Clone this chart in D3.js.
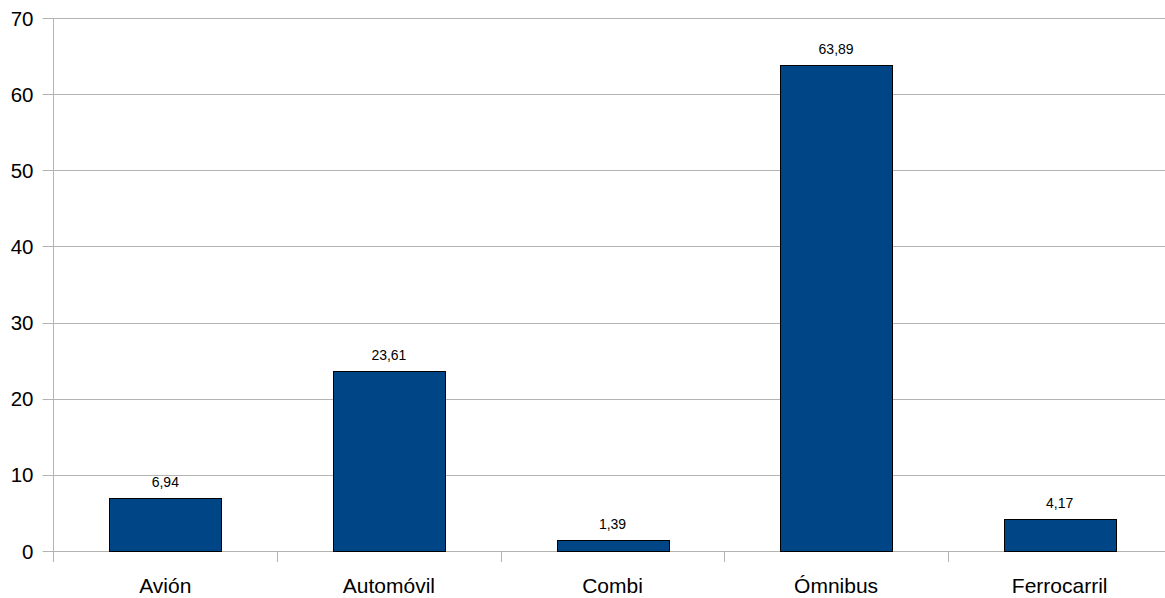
<!DOCTYPE html>
<html>
<head>
<meta charset="utf-8">
<script src="https://cdn.jsdelivr.net/npm/d3@7"></script>
<style>
  html, body { margin: 0; padding: 0; background: #fff; }
  svg { display: block; font-family: "Liberation Sans", Arial, sans-serif; }
</style>
</head>
<body>
<svg id="chart" width="1165" height="598"></svg>
<script>
// Transport mode shares (%)
const categories = ["Avión", "Automóvil", "Combi", "Ómnibus", "Ferrocarril"];
const values = [6.94, 23.61, 1.39, 63.89, 4.17];
const yTicks = [0, 10, 20, 30, 40, 50, 60, 70];

const svg = d3.select("#chart");
const plotLeft = 53.5, plotRight = 1171.5, plotTop = 18, plotBottom = 551;

const x = d3.scaleBand().domain(categories).range([plotLeft, plotRight]).paddingInner(0.5).paddingOuter(0.25);
const y = d3.scaleLinear().domain([0, 70]).range([plotBottom, plotTop]);

const gridColor = "#b3b3b3";

// Horizontal gridlines
svg.append("g").selectAll("line").data(yTicks).join("line")
  .attr("x1", plotLeft - 11).attr("x2", plotRight)
  .attr("y1", d => Math.round(y(d)) + 0.5).attr("y2", d => Math.round(y(d)) + 0.5)
  .attr("stroke", gridColor).attr("stroke-width", 1);

// Vertical axis line
svg.append("line")
  .attr("x1", plotLeft).attr("x2", plotLeft)
  .attr("y1", plotTop).attr("y2", plotBottom + 11)
  .attr("stroke", gridColor).attr("stroke-width", 1);

// Category separators under the baseline
const bounds = categories.slice(1).map(c => x(c) - x.step() * x.paddingInner() / 2);
svg.append("g").selectAll("line").data(bounds).join("line")
  .attr("x1", d => Math.round(d) + 0.5).attr("x2", d => Math.round(d) + 0.5)
  .attr("y1", plotBottom).attr("y2", plotBottom + 11)
  .attr("stroke", gridColor).attr("stroke-width", 1);

// Y tick labels
svg.append("g").selectAll("text").data(yTicks).join("text")
  .attr("x", 33.5).attr("y", d => y(d) + 7.5)
  .attr("text-anchor", "end")
  .attr("font-size", 20.5).attr("fill", "#000")
  .text(d => d);

// Bars
svg.append("g").selectAll("rect").data(values).join("rect")
  .attr("x", (d, i) => Math.round(x(categories[i])) + 0.5)
  .attr("y", d => Math.round(y(d)) + 0.5)
  .attr("width", Math.round(x.bandwidth()))
  .attr("height", d => Math.round(y(0)) - Math.round(y(d)))
  .attr("fill", "#004586")
  .attr("stroke", "#000").attr("stroke-width", 1);

// Value labels
svg.append("g").selectAll("text").data(values).join("text")
  .attr("x", (d, i) => x(categories[i]) + x.bandwidth() / 2)
  .attr("y", d => y(d) - 11)
  .attr("text-anchor", "middle")
  .attr("font-size", 14).attr("fill", "#000")
  .text(d => d.toFixed(2).replace(".", ","));

// Category labels
svg.append("g").selectAll("text").data(categories).join("text")
  .attr("x", d => x(d) + x.bandwidth() / 2)
  .attr("y", 593)
  .attr("text-anchor", "middle")
  .attr("font-size", 21).attr("fill", "#000")
  .text(d => d);
</script>
</body>
</html>
